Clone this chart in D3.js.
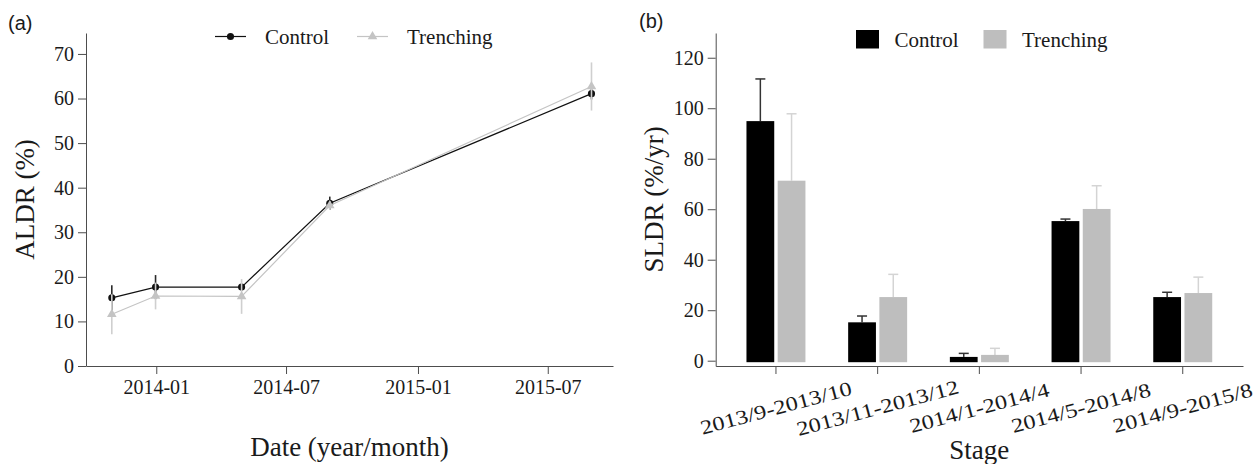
<!DOCTYPE html>
<html>
<head>
<meta charset="utf-8">
<script src="https://cdn.jsdelivr.net/npm/d3@7"></script>
<style>
  body { margin: 0; background: #fff; }
  text { font-family: "Liberation Serif", "Times New Roman", serif; fill: #1a1a1a; }
  .panel { font-family: "Liberation Sans", Arial, sans-serif; font-size: 20px; }
  .axis path, .axis line { stroke: #4d4d4d; }
  .axis text { font-family: "Liberation Serif", serif; font-size: 20px; fill: #1a1a1a; }
</style>
</head>
<body>
<div id="chart"></div>
<script>
// panel (a) data: ALDR over time
const dates = ["2013-10-31", "2013-12-31", "2014-04-30", "2014-08-31", "2015-08-31"];
const aldrControl = [15.3, 17.7, 17.7, 36.5, 61.1];
const aldrControlSe = [2.8, 2.7, 0.4, 1.5, 1.3];
const aldrTrench = [11.6, 15.7, 15.6, 36.0, 62.7];
const aldrTrenchSe = [4.5, 3.0, 3.9, 1.0, 5.4];
const aldrTicks = [0, 10, 20, 30, 40, 50, 60, 70];

// panel (b) data: SLDR by stage
const stages = ["2013/9-2013/10", "2013/11-2013/12", "2014/1-2014/4", "2014/5-2014/8", "2014/9-2015/8"];
const sldrControl = [94.9, 15.2, 1.5, 55.3, 25.2];
const sldrControlSe = [16.7, 2.5, 1.4, 0.8, 1.9];
const sldrTrench = [71.3, 25.2, 2.3, 60.1, 26.8];
const sldrTrenchSe = [26.5, 9.0, 2.6, 9.2, 6.3];
const sldrTicks = [0, 20, 40, 60, 80, 100, 120];

const series = ["Control", "Trenching"];

const width = 1254, height = 464;

const svg = d3.select("#chart")
    .append("svg")
    .attr("width", width)
    .attr("height", height);

svg.append("rect").attr("width", width).attr("height", height).attr("fill", "#fff");

const parse = d3.timeParse("%Y-%m-%d");

// ---------- panel (a) ----------
const a = {left: 86, right: 613, top: 33, bottom: 366};

const xTime = d3.scaleTime()
    .domain([new Date(2013, 8, 25), new Date(2015, 8, 30)])
    .range([a.left, a.right]);

const yA = d3.scaleLinear()
    .domain([0, 74.7])
    .range([a.bottom, a.top]);

svg.append("g")
    .attr("class", "axis")
    .attr("transform", `translate(0,${a.bottom})`)
    .call(d3.axisBottom(xTime)
        .ticks(d3.timeMonth.every(6))
        .tickFormat(d3.timeFormat("%Y-%m"))
        .tickSizeInner(8).tickSizeOuter(0).tickPadding(6))
    .attr("font-family", "Liberation Serif")
    .attr("font-size", 20);

svg.append("g")
    .attr("class", "axis")
    .attr("transform", `translate(${a.left},0)`)
    .call(d3.axisLeft(yA)
        .tickValues(aldrTicks)
        .tickSizeInner(8).tickSizeOuter(0).tickPadding(4))
    .attr("font-family", "Liberation Serif")
    .attr("font-size", 20);

const ptsControl = dates.map((d, i) => ({date: parse(d), v: aldrControl[i], se: aldrControlSe[i]}));
const ptsTrench = dates.map((d, i) => ({date: parse(d), v: aldrTrench[i], se: aldrTrenchSe[i]}));

const line = d3.line()
    .x(d => xTime(d.date))
    .y(d => yA(d.v));

function drawSeries(pts, col, errCol, shape) {
    const g = svg.append("g");
    g.selectAll("line.err")
        .data(pts)
        .enter()
        .append("line")
        .attr("x1", d => xTime(d.date)).attr("x2", d => xTime(d.date))
        .attr("y1", d => yA(d.v - d.se)).attr("y2", d => yA(d.v + d.se))
        .attr("stroke", errCol).attr("stroke-width", 1.6);
    g.append("path")
        .datum(pts)
        .attr("d", line)
        .attr("fill", "none")
        .attr("stroke", col)
        .attr("stroke-width", 1.2);
    g.selectAll("path.pt")
        .data(pts)
        .enter()
        .append("path")
        .attr("transform", d => `translate(${xTime(d.date)},${yA(d.v)})`)
        .attr("d", d3.symbol().type(shape).size(40))
        .attr("fill", col);
}

drawSeries(ptsControl, "#111", "#2a2a2a", d3.symbolCircle);
drawSeries(ptsTrench, "#c4c4c4", "#cfcfcf", d3.symbolTriangle);

// legend (a)
const legA = [
    {name: series[0], x: 215, col: "#111", shape: d3.symbolCircle},
    {name: series[1], x: 357, col: "#c4c4c4", shape: d3.symbolTriangle}
];
legA.forEach(function(l) {
    svg.append("line")
        .attr("x1", l.x).attr("x2", l.x + 31)
        .attr("y1", 36.5).attr("y2", 36.5)
        .attr("stroke", l.col).attr("stroke-width", 1.2);
    svg.append("path")
        .attr("transform", `translate(${l.x + 15.5},36.5)`)
        .attr("d", d3.symbol().type(l.shape).size(40))
        .attr("fill", l.col);
    svg.append("text")
        .attr("x", l.x + 50).attr("y", 43.5)
        .attr("font-size", 21)
        .text(l.name);
});

svg.append("text")
    .attr("transform", `translate(34,${(a.top + a.bottom) / 2}) rotate(-90)`)
    .attr("text-anchor", "middle")
    .attr("font-size", 27)
    .text("ALDR (%)");

svg.append("text")
    .attr("x", (a.left + a.right) / 2).attr("y", 456)
    .attr("text-anchor", "middle")
    .attr("font-size", 27)
    .text("Date (year/month)");

svg.append("text").attr("class", "panel").attr("x", 8).attr("y", 30).text("(a)");

// ---------- panel (b) ----------
const b = {left: 715.7, right: 1243, top: 33, bottom: 366};

const x0 = d3.scaleBand()
    .domain(stages)
    .range([b.left, b.right])
    .paddingInner(0)
    .paddingOuter(0.0925);

const x1 = d3.scaleBand()
    .domain(series)
    .range([-x0.step() * 0.29, x0.step() * 0.29])
    .paddingInner(0.11);

const yB = d3.scaleLinear()
    .domain([-2.1, 129.8])
    .range([b.bottom, b.top]);

const xAxisB = svg.append("g")
    .attr("class", "axis")
    .attr("transform", `translate(0,${b.bottom})`)
    .call(d3.axisBottom(x0).tickSizeInner(8).tickSizeOuter(0));
xAxisB.selectAll(".tick text").remove();

svg.append("g")
    .attr("class", "axis")
    .attr("transform", `translate(${b.left},0)`)
    .call(d3.axisLeft(yB)
        .tickValues(sldrTicks)
        .tickSizeInner(8).tickSizeOuter(0).tickPadding(4))
    .attr("font-family", "Liberation Serif")
    .attr("font-size", 20);

// rotated stage labels
svg.selectAll("text.stage")
    .data(stages)
    .enter()
    .append("text")
    .attr("class", "stage")
    .attr("transform", d => `translate(${x0(d) + x0.bandwidth() / 2},408) rotate(-15) scale(1.22,1)`)
    .attr("text-anchor", "middle")
    .attr("dominant-baseline", "central")
    .attr("font-family", "Liberation Serif")
    .attr("font-size", 20)
    .text(d => d);

const bars = [];
stages.forEach(function(s, i) {
    bars.push({stage: s, key: series[0], v: sldrControl[i], se: sldrControlSe[i]});
    bars.push({stage: s, key: series[1], v: sldrTrench[i], se: sldrTrenchSe[i]});
});

const fillB = d3.scaleOrdinal().domain(series).range(["#000000", "#bebebe"]);
const errB = d3.scaleOrdinal().domain(series).range(["#333333", "#d4d4d4"]);

const barX = d => x0(d.stage) + x0.bandwidth() / 2 + x1(d.key);

// error bars (upper half, drawn behind bars)
svg.selectAll("line.eb")
    .data(bars)
    .enter()
    .append("line")
    .attr("x1", d => barX(d) + x1.bandwidth() / 2)
    .attr("x2", d => barX(d) + x1.bandwidth() / 2)
    .attr("y1", d => yB(d.v)).attr("y2", d => yB(d.v + d.se))
    .attr("stroke", d => errB(d.key)).attr("stroke-width", 1.5);

svg.selectAll("line.cap")
    .data(bars)
    .enter()
    .append("line")
    .attr("x1", d => barX(d) + x1.bandwidth() / 2 - 5)
    .attr("x2", d => barX(d) + x1.bandwidth() / 2 + 5)
    .attr("y1", d => yB(d.v + d.se)).attr("y2", d => yB(d.v + d.se))
    .attr("stroke", d => errB(d.key)).attr("stroke-width", 1.5);

svg.selectAll("rect.bar")
    .data(bars)
    .enter()
    .append("rect")
    .attr("x", d => barX(d))
    .attr("width", x1.bandwidth())
    .attr("y", d => yB(d.v))
    .attr("height", d => yB(0) - yB(d.v) + 1.5)
    .attr("fill", d => fillB(d.key));

// legend (b)
const legB = [
    {name: series[0], x: 856},
    {name: series[1], x: 983.5}
];
legB.forEach(function(l) {
    svg.append("rect")
        .attr("x", l.x).attr("y", 30)
        .attr("width", 23).attr("height", 18.5)
        .attr("fill", fillB(l.name));
    svg.append("text")
        .attr("x", l.x + 38.5).attr("y", 46.5)
        .attr("font-size", 21)
        .text(l.name);
});

svg.append("text")
    .attr("transform", `translate(663,${(b.top + b.bottom) / 2}) rotate(-90)`)
    .attr("text-anchor", "middle")
    .attr("font-size", 27)
    .text("SLDR (%/yr)");

svg.append("text")
    .attr("x", (b.left + b.right) / 2).attr("y", 459)
    .attr("text-anchor", "middle")
    .attr("font-size", 27)
    .text("Stage");

svg.append("text").attr("class", "panel").attr("x", 639).attr("y", 28).text("(b)");
</script>
</body>
</html>
